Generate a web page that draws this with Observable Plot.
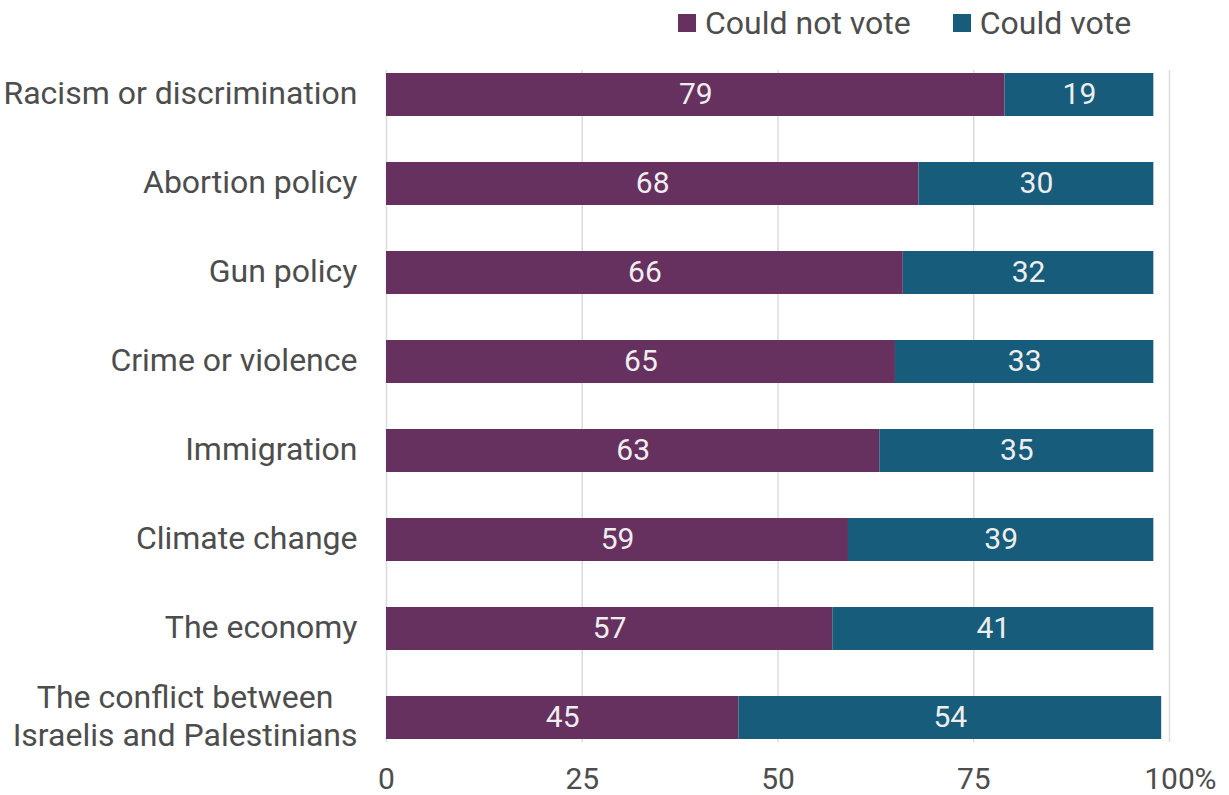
<!DOCTYPE html>
<html>
<head>
<meta charset="utf-8">
<script src="https://cdn.jsdelivr.net/npm/d3@7"></script>
<script src="https://cdn.jsdelivr.net/npm/@observablehq/plot@0.6"></script>
<style>
  html, body { margin: 0; padding: 0; background: #fff; }
  body { width: 1229px; height: 795px; overflow: hidden; font-family: Roboto, "Noto Sans", sans-serif; }
  #legend { height: 46px; display: flex; align-items: center; padding-left: 678px; font-size: 32px; color: #4d4d4d; }
  .item { display: flex; align-items: center; }
  .sw { width: 18px; height: 18px; margin-right: 9px; }
  #chart svg { display: block; }
</style>
</head>
<body>
<div id="legend"></div>
<div id="chart"></div>
<script>
const categories = [
  "Racism or discrimination",
  "Abortion policy",
  "Gun policy",
  "Crime or violence",
  "Immigration",
  "Climate change",
  "The economy",
  "The conflict between\nIsraelis and Palestinians"
];
const couldNotVote = [79, 68, 66, 65, 63, 59, 57, 45];
const couldVote = [19, 30, 32, 33, 35, 39, 41, 54];
const seriesNames = ["Could not vote", "Could vote"];
const seriesColors = ["#66305f", "#175c7a"];
const xTicks = [0, 25, 50, 75, 100];

const data = [];
categories.forEach((c, i) => {
  data.push({category: c, series: seriesNames[0], value: couldNotVote[i]});
  data.push({category: c, series: seriesNames[1], value: couldVote[i]});
});

// legend
const legend = document.getElementById("legend");
seriesNames.forEach((s, i) => {
  const it = document.createElement("div");
  it.className = "item";
  if (i > 0) it.style.marginLeft = "42px";
  const sw = document.createElement("div");
  sw.className = "sw";
  sw.style.background = seriesColors[i];
  const t = document.createElement("span");
  t.textContent = s;
  it.appendChild(sw); it.appendChild(t);
  legend.appendChild(it);
});

const textColor = "#4d4d4d";
const chart = Plot.plot({
  width: 1229,
  height: 749,
  marginTop: 24,
  marginBottom: 53,
  marginLeft: 386,
  marginRight: 60,
  style: {fontFamily: "Roboto, 'Noto Sans', sans-serif", fontSize: "31px", color: textColor, background: "#fff"},
  x: {domain: [0, 100], axis: null},
  y: {domain: categories, paddingInner: 0.52, paddingOuter: 0, axis: null, label: null},
  color: {domain: seriesNames, range: seriesColors},
  marks: [
    Plot.ruleX(xTicks, {stroke: "#dcdcdc", strokeWidth: 1.5}),
    Plot.barX(data, Plot.stackX({x: "value", y: "category", fill: "series", order: seriesNames})),
    Plot.text(data, Plot.stackX({x: "value", y: "category", z: "series", order: seriesNames, text: d => String(d.value), fill: "#eeeeee", fontSize: 30, dy: -1})),
    Plot.axisY({tickSize: 0, tickPadding: 29, fontSize: 32, lineHeight: 1.2, fill: textColor, label: null, dy: -3}),
    Plot.text(xTicks, {x: d => d, text: d => String(d), frameAnchor: "bottom", dy: 37, lineAnchor: "middle", fill: textColor, fontSize: 30}),
    Plot.text([100], {x: d => d, text: () => "%", frameAnchor: "bottom", dy: 37, dx: 25, textAnchor: "start", lineAnchor: "middle", fill: textColor, fontSize: 30})
  ]
});
document.getElementById("chart").appendChild(chart);

// center multi-line y labels on each other (right-aligned block)
d3.select(chart).selectAll('g[aria-label="y-axis tick label"] text').each(function() {
  const tspans = d3.select(this).selectAll("tspan");
  if (tspans.size() > 1) {
    let maxLen = 0;
    tspans.each(function() { maxLen = Math.max(maxLen, this.getComputedTextLength()); });
    d3.select(this).attr("text-anchor", "middle");
    tspans.attr("x", -maxLen / 2);
  }
});
</script>
</body>
</html>
